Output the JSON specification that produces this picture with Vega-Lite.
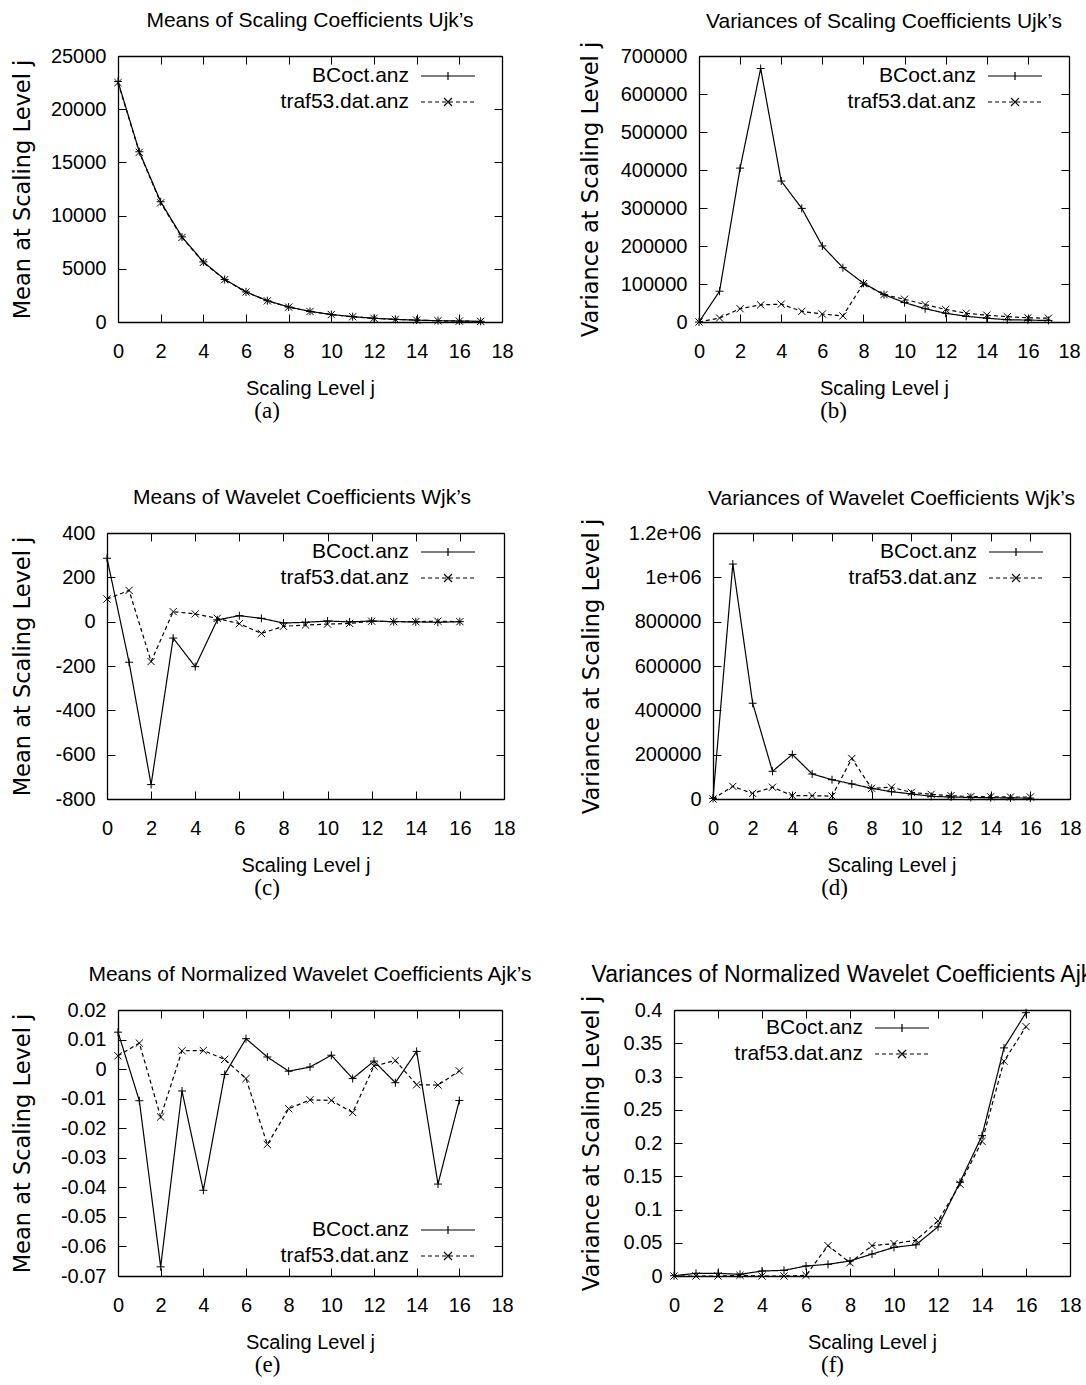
{
"$schema": "https://vega.github.io/schema/vega-lite/v6.json",
"background": "white",
"padding": {"left": 10, "top": 10, "right": 0, "bottom": 0},
"spacing": 64,
"datasets": {
"a": [
{"j":0,"s":"BCoct.anz","v":22600},{"j":1,"s":"BCoct.anz","v":16000},{"j":2,"s":"BCoct.anz","v":11300},{"j":3,"s":"BCoct.anz","v":8000},{"j":4,"s":"BCoct.anz","v":5650},{"j":5,"s":"BCoct.anz","v":4000},{"j":6,"s":"BCoct.anz","v":2830},{"j":7,"s":"BCoct.anz","v":2000},{"j":8,"s":"BCoct.anz","v":1410},{"j":9,"s":"BCoct.anz","v":1000},{"j":10,"s":"BCoct.anz","v":700},{"j":11,"s":"BCoct.anz","v":500},{"j":12,"s":"BCoct.anz","v":350},{"j":13,"s":"BCoct.anz","v":250},{"j":14,"s":"BCoct.anz","v":175},{"j":15,"s":"BCoct.anz","v":125},{"j":16,"s":"BCoct.anz","v":88},{"j":17,"s":"BCoct.anz","v":62},
{"j":0,"s":"traf53.dat.anz","v":22500},{"j":1,"s":"traf53.dat.anz","v":15950},{"j":2,"s":"traf53.dat.anz","v":11200},{"j":3,"s":"traf53.dat.anz","v":7950},{"j":4,"s":"traf53.dat.anz","v":5600},{"j":5,"s":"traf53.dat.anz","v":3980},{"j":6,"s":"traf53.dat.anz","v":2810},{"j":7,"s":"traf53.dat.anz","v":1990},{"j":8,"s":"traf53.dat.anz","v":1400},{"j":9,"s":"traf53.dat.anz","v":990},{"j":10,"s":"traf53.dat.anz","v":700},{"j":11,"s":"traf53.dat.anz","v":495},{"j":12,"s":"traf53.dat.anz","v":350},{"j":13,"s":"traf53.dat.anz","v":248},{"j":14,"s":"traf53.dat.anz","v":175},{"j":15,"s":"traf53.dat.anz","v":124},{"j":16,"s":"traf53.dat.anz","v":87},{"j":17,"s":"traf53.dat.anz","v":60}
],
"b": [
{"j":0,"s":"BCoct.anz","v":0},{"j":1,"s":"BCoct.anz","v":81000},{"j":2,"s":"BCoct.anz","v":405000},{"j":3,"s":"BCoct.anz","v":667000},{"j":4,"s":"BCoct.anz","v":371000},{"j":5,"s":"BCoct.anz","v":299000},{"j":6,"s":"BCoct.anz","v":200000},{"j":7,"s":"BCoct.anz","v":143000},{"j":8,"s":"BCoct.anz","v":102000},{"j":9,"s":"BCoct.anz","v":72000},{"j":10,"s":"BCoct.anz","v":51000},{"j":11,"s":"BCoct.anz","v":35000},{"j":12,"s":"BCoct.anz","v":23000},{"j":13,"s":"BCoct.anz","v":15000},{"j":14,"s":"BCoct.anz","v":10000},{"j":15,"s":"BCoct.anz","v":6000},{"j":16,"s":"BCoct.anz","v":5000},{"j":17,"s":"BCoct.anz","v":4000},
{"j":0,"s":"traf53.dat.anz","v":0},{"j":1,"s":"traf53.dat.anz","v":10500},{"j":2,"s":"traf53.dat.anz","v":35000},{"j":3,"s":"traf53.dat.anz","v":45000},{"j":4,"s":"traf53.dat.anz","v":47000},{"j":5,"s":"traf53.dat.anz","v":28000},{"j":6,"s":"traf53.dat.anz","v":21000},{"j":7,"s":"traf53.dat.anz","v":16000},{"j":8,"s":"traf53.dat.anz","v":101000},{"j":9,"s":"traf53.dat.anz","v":72000},{"j":10,"s":"traf53.dat.anz","v":60000},{"j":11,"s":"traf53.dat.anz","v":46000},{"j":12,"s":"traf53.dat.anz","v":33000},{"j":13,"s":"traf53.dat.anz","v":23000},{"j":14,"s":"traf53.dat.anz","v":18000},{"j":15,"s":"traf53.dat.anz","v":14000},{"j":16,"s":"traf53.dat.anz","v":11000},{"j":17,"s":"traf53.dat.anz","v":10000}
],
"c": [
{"j":0,"s":"BCoct.anz","v":286},{"j":1,"s":"BCoct.anz","v":-183},{"j":2,"s":"BCoct.anz","v":-735},{"j":3,"s":"BCoct.anz","v":-74},{"j":4,"s":"BCoct.anz","v":-203},{"j":5,"s":"BCoct.anz","v":8},{"j":6,"s":"BCoct.anz","v":27},{"j":7,"s":"BCoct.anz","v":15},{"j":8,"s":"BCoct.anz","v":-6},{"j":9,"s":"BCoct.anz","v":-3},{"j":10,"s":"BCoct.anz","v":3},{"j":11,"s":"BCoct.anz","v":-1},{"j":12,"s":"BCoct.anz","v":3},{"j":13,"s":"BCoct.anz","v":0},{"j":14,"s":"BCoct.anz","v":-1},{"j":15,"s":"BCoct.anz","v":-3},{"j":16,"s":"BCoct.anz","v":0},
{"j":0,"s":"traf53.dat.anz","v":102},{"j":1,"s":"traf53.dat.anz","v":141},{"j":2,"s":"traf53.dat.anz","v":-180},{"j":3,"s":"traf53.dat.anz","v":45},{"j":4,"s":"traf53.dat.anz","v":35},{"j":5,"s":"traf53.dat.anz","v":15},{"j":6,"s":"traf53.dat.anz","v":-9},{"j":7,"s":"traf53.dat.anz","v":-53},{"j":8,"s":"traf53.dat.anz","v":-21},{"j":9,"s":"traf53.dat.anz","v":-15},{"j":10,"s":"traf53.dat.anz","v":-11},{"j":11,"s":"traf53.dat.anz","v":-8},{"j":12,"s":"traf53.dat.anz","v":2},{"j":13,"s":"traf53.dat.anz","v":0},{"j":14,"s":"traf53.dat.anz","v":0},{"j":15,"s":"traf53.dat.anz","v":2},{"j":16,"s":"traf53.dat.anz","v":0}
],
"d": [
{"j":0,"s":"BCoct.anz","v":3000},{"j":1,"s":"BCoct.anz","v":1060000},{"j":2,"s":"BCoct.anz","v":432000},{"j":3,"s":"BCoct.anz","v":125000},{"j":4,"s":"BCoct.anz","v":201000},{"j":5,"s":"BCoct.anz","v":113000},{"j":6,"s":"BCoct.anz","v":87000},{"j":7,"s":"BCoct.anz","v":68000},{"j":8,"s":"BCoct.anz","v":48000},{"j":9,"s":"BCoct.anz","v":33000},{"j":10,"s":"BCoct.anz","v":23000},{"j":11,"s":"BCoct.anz","v":12000},{"j":12,"s":"BCoct.anz","v":9000},{"j":13,"s":"BCoct.anz","v":7000},{"j":14,"s":"BCoct.anz","v":6000},{"j":15,"s":"BCoct.anz","v":5000},{"j":16,"s":"BCoct.anz","v":4000},
{"j":0,"s":"traf53.dat.anz","v":0},{"j":1,"s":"traf53.dat.anz","v":57000},{"j":2,"s":"traf53.dat.anz","v":25000},{"j":3,"s":"traf53.dat.anz","v":53000},{"j":4,"s":"traf53.dat.anz","v":15000},{"j":5,"s":"traf53.dat.anz","v":15000},{"j":6,"s":"traf53.dat.anz","v":13000},{"j":7,"s":"traf53.dat.anz","v":183000},{"j":8,"s":"traf53.dat.anz","v":48000},{"j":9,"s":"traf53.dat.anz","v":53000},{"j":10,"s":"traf53.dat.anz","v":30000},{"j":11,"s":"traf53.dat.anz","v":21000},{"j":12,"s":"traf53.dat.anz","v":15000},{"j":13,"s":"traf53.dat.anz","v":11000},{"j":14,"s":"traf53.dat.anz","v":10000},{"j":15,"s":"traf53.dat.anz","v":9000},{"j":16,"s":"traf53.dat.anz","v":9000}
],
"e": [
{"j":0,"s":"BCoct.anz","v":0.0125},{"j":1,"s":"BCoct.anz","v":-0.0107},{"j":2,"s":"BCoct.anz","v":-0.0669},{"j":3,"s":"BCoct.anz","v":-0.0074},{"j":4,"s":"BCoct.anz","v":-0.041},{"j":5,"s":"BCoct.anz","v":-0.0018},{"j":6,"s":"BCoct.anz","v":0.0103},{"j":7,"s":"BCoct.anz","v":0.0041},{"j":8,"s":"BCoct.anz","v":-0.0007},{"j":9,"s":"BCoct.anz","v":0.0007},{"j":10,"s":"BCoct.anz","v":0.0047},{"j":11,"s":"BCoct.anz","v":-0.0032},{"j":12,"s":"BCoct.anz","v":0.0027},{"j":13,"s":"BCoct.anz","v":-0.0046},{"j":14,"s":"BCoct.anz","v":0.006},{"j":15,"s":"BCoct.anz","v":-0.0389},{"j":16,"s":"BCoct.anz","v":-0.0106},
{"j":0,"s":"traf53.dat.anz","v":0.0045},{"j":1,"s":"traf53.dat.anz","v":0.0088},{"j":2,"s":"traf53.dat.anz","v":-0.0162},{"j":3,"s":"traf53.dat.anz","v":0.0062},{"j":4,"s":"traf53.dat.anz","v":0.0063},{"j":5,"s":"traf53.dat.anz","v":0.0033},{"j":6,"s":"traf53.dat.anz","v":-0.0032},{"j":7,"s":"traf53.dat.anz","v":-0.0255},{"j":8,"s":"traf53.dat.anz","v":-0.0134},{"j":9,"s":"traf53.dat.anz","v":-0.0104},{"j":10,"s":"traf53.dat.anz","v":-0.0106},{"j":11,"s":"traf53.dat.anz","v":-0.0147},{"j":12,"s":"traf53.dat.anz","v":0.001},{"j":13,"s":"traf53.dat.anz","v":0.0029},{"j":14,"s":"traf53.dat.anz","v":-0.0053},{"j":15,"s":"traf53.dat.anz","v":-0.0054},{"j":16,"s":"traf53.dat.anz","v":-0.0006}
],
"f": [
{"j":0,"s":"BCoct.anz","v":0.0005},{"j":1,"s":"BCoct.anz","v":0.004},{"j":2,"s":"BCoct.anz","v":0.004},{"j":3,"s":"BCoct.anz","v":0.0025},{"j":4,"s":"BCoct.anz","v":0.0075},{"j":5,"s":"BCoct.anz","v":0.0085},{"j":6,"s":"BCoct.anz","v":0.015},{"j":7,"s":"BCoct.anz","v":0.0176},{"j":8,"s":"BCoct.anz","v":0.0226},{"j":9,"s":"BCoct.anz","v":0.033},{"j":10,"s":"BCoct.anz","v":0.043},{"j":11,"s":"BCoct.anz","v":0.047},{"j":12,"s":"BCoct.anz","v":0.074},{"j":13,"s":"BCoct.anz","v":0.141},{"j":14,"s":"BCoct.anz","v":0.211},{"j":15,"s":"BCoct.anz","v":0.343},{"j":16,"s":"BCoct.anz","v":0.396},
{"j":0,"s":"traf53.dat.anz","v":0},{"j":1,"s":"traf53.dat.anz","v":0},{"j":2,"s":"traf53.dat.anz","v":0},{"j":3,"s":"traf53.dat.anz","v":0.001},{"j":4,"s":"traf53.dat.anz","v":0},{"j":5,"s":"traf53.dat.anz","v":0},{"j":6,"s":"traf53.dat.anz","v":0.001},{"j":7,"s":"traf53.dat.anz","v":0.0457},{"j":8,"s":"traf53.dat.anz","v":0.02},{"j":9,"s":"traf53.dat.anz","v":0.0457},{"j":10,"s":"traf53.dat.anz","v":0.0487},{"j":11,"s":"traf53.dat.anz","v":0.0538},{"j":12,"s":"traf53.dat.anz","v":0.0829},{"j":13,"s":"traf53.dat.anz","v":0.138},{"j":14,"s":"traf53.dat.anz","v":0.2025},{"j":15,"s":"traf53.dat.anz","v":0.323},{"j":16,"s":"traf53.dat.anz","v":0.375}
]
},
"vconcat": [
{"hconcat": [
 {"title": {"text": "(a)", "orient": "bottom", "anchor": "middle", "font": "Liberation Serif", "fontSize": 23, "baseline": "alphabetic", "offset": 20, "dx": 5},
  "vconcat": [{
  "width": 384, "height": 266,
  "title": {"text": "Means of Scaling Coefficients Ujk’s", "offset": -2, "baseline": "alphabetic"},
  "data": {"name": "a"},
  "layer": [
   {"mark": {"type": "line", "color": "black", "strokeWidth": 1.2},
    "encoding": {
     "x": {"field": "j", "type": "quantitative", "scale": {"domain": [0,18], "nice": false}, "axis": {"orient": "bottom", "values": [0,2,4,6,8,10,12,14,16,18], "title": "Scaling Level j", "titleY": 72, "titleBaseline": "alphabetic"}},
     "y": {"field": "v", "type": "quantitative", "scale": {"domain": [0,25000], "nice": false, "zero": false}, "axis": {"orient": "left", "values": [0,5000,10000,15000,20000,25000], "title": "Mean at Scaling Level j", "titleX": -96, "titleBaseline": "middle", "labelExpr": "'' + datum.value"}},
     "strokeDash": {"field": "s", "type": "nominal", "scale": {"domain": ["BCoct.anz","traf53.dat.anz"], "range": [[1,0],[4,3]]}, "legend": null}
    }},
   {"mark": {"type": "point", "filled": false, "color": "black", "strokeWidth": 1, "size": 64, "opacity": 1},
    "encoding": {
     "x": {"field": "j", "type": "quantitative", "axis": {"orient": "top", "values": [0,2,4,6,8,10,12,14,16,18], "labels": false, "title": null}},
     "y": {"field": "v", "type": "quantitative", "axis": {"orient": "right", "values": [0,5000,10000,15000,20000,25000], "labels": false, "title": null}},
     "shape": {"field": "s", "type": "nominal", "scale": {"domain": ["BCoct.anz","traf53.dat.anz"], "range": ["M-1,0H1M0,-1V1","M-0.9,-0.9L0.9,0.9M-0.9,0.9L0.9,-0.9"]}, "legend": null}
    }},
   {"transform": [{"filter": "false"}],
    "mark": {"type": "point", "filled": false, "color": "black", "strokeWidth": 1.2, "size": 100, "opacity": 1},
    "encoding": {"shape": {"field": "s", "type": "nominal", "scale": {"domain": ["BCoct.anz","traf53.dat.anz"], "range": ["M-5.4,0H5.4M0,-0.8V0.8","M-5.4,0H-4.6M-4,0H-3.2M-2.6,0H-1.8M-1.2,0H-0.4M0.2,0H1M1.6,0H2.4M3,0H3.8M4.4,0H5.2M-0.8,-0.8L0.8,0.8M-0.8,0.8L0.8,-0.8"]}, "legend": {"orient": "none", "legendX": 319.5, "legendY": 9.5, "title": null}}}}
  ],
  "resolve": {"scale": {"shape": "independent"}, "axis": {"x": "independent", "y": "independent"}}
 }]},
 {"title": {"text": "(b)", "orient": "bottom", "anchor": "middle", "font": "Liberation Serif", "fontSize": 23, "baseline": "alphabetic", "offset": 20, "dx": 4},
  "vconcat": [{
  "width": 370, "height": 266,
  "title": {"text": "Variances of Scaling Coefficients Ujk’s", "offset": -8, "baseline": "alphabetic"},
  "data": {"name": "b"},
  "layer": [
   {"mark": {"type": "line", "color": "black", "strokeWidth": 1.2},
    "encoding": {
     "x": {"field": "j", "type": "quantitative", "scale": {"domain": [0,18], "nice": false}, "axis": {"orient": "bottom", "values": [0,2,4,6,8,10,12,14,16,18], "title": "Scaling Level j", "titleY": 72, "titleBaseline": "alphabetic"}},
     "y": {"field": "v", "type": "quantitative", "scale": {"domain": [0,700000], "nice": false, "zero": false}, "axis": {"orient": "left", "values": [0,100000,200000,300000,400000,500000,600000,700000], "title": "Variance at Scaling Level j", "titleX": -109, "titleBaseline": "middle", "labelExpr": "'' + datum.value"}},
     "strokeDash": {"field": "s", "type": "nominal", "scale": {"domain": ["BCoct.anz","traf53.dat.anz"], "range": [[1,0],[4,3]]}, "legend": null}
    }},
   {"mark": {"type": "point", "filled": false, "color": "black", "strokeWidth": 1, "size": 64, "opacity": 1},
    "encoding": {
     "x": {"field": "j", "type": "quantitative", "axis": {"orient": "top", "values": [0,2,4,6,8,10,12,14,16,18], "labels": false, "title": null}},
     "y": {"field": "v", "type": "quantitative", "axis": {"orient": "right", "values": [0,100000,200000,300000,400000,500000,600000,700000], "labels": false, "title": null}},
     "shape": {"field": "s", "type": "nominal", "scale": {"domain": ["BCoct.anz","traf53.dat.anz"], "range": ["M-1,0H1M0,-1V1","M-0.9,-0.9L0.9,0.9M-0.9,0.9L0.9,-0.9"]}, "legend": null}
    }},
   {"transform": [{"filter": "false"}],
    "mark": {"type": "point", "filled": false, "color": "black", "strokeWidth": 1.2, "size": 100, "opacity": 1},
    "encoding": {"shape": {"field": "s", "type": "nominal", "scale": {"domain": ["BCoct.anz","traf53.dat.anz"], "range": ["M-5.4,0H5.4M0,-0.8V0.8","M-5.4,0H-4.6M-4,0H-3.2M-2.6,0H-1.8M-1.2,0H-0.4M0.2,0H1M1.6,0H2.4M3,0H3.8M4.4,0H5.2M-0.8,-0.8L0.8,0.8M-0.8,0.8L0.8,-0.8"]}, "legend": {"orient": "none", "legendX": 305.5, "legendY": 9.5, "title": null}}}}
  ],
  "resolve": {"scale": {"shape": "independent"}, "axis": {"x": "independent", "y": "independent"}}
 }]}
], "spacing": 64},
{"hconcat": [
 {"title": {"text": "(c)", "orient": "bottom", "anchor": "middle", "font": "Liberation Serif", "fontSize": 23, "baseline": "alphabetic", "offset": 20, "dx": 4},
  "vconcat": [{
  "width": 386, "height": 266,
  "title": {"text": "Means of Wavelet Coefficients Wjk’s", "offset": -2, "baseline": "alphabetic", "dx": -9},
  "data": {"name": "c"},
  "layer": [
   {"mark": {"type": "line", "color": "black", "strokeWidth": 1.2},
    "encoding": {
     "x": {"field": "j", "type": "quantitative", "scale": {"domain": [0,18], "nice": false, "range": [-11, 386]}, "axis": {"orient": "bottom", "values": [0,2,4,6,8,10,12,14,16,18], "title": "Scaling Level j", "titleY": 72, "titleBaseline": "alphabetic"}},
     "y": {"field": "v", "type": "quantitative", "scale": {"domain": [-800,400], "nice": false, "zero": false}, "axis": {"orient": "left", "offset": 11, "values": [-800,-600,-400,-200,0,200,400], "title": "Mean at Scaling Level j", "titleX": -85, "titleBaseline": "middle", "labelExpr": "'' + datum.value"}},
     "strokeDash": {"field": "s", "type": "nominal", "scale": {"domain": ["BCoct.anz","traf53.dat.anz"], "range": [[1,0],[4,3]]}, "legend": null}
    }},
   {"mark": {"type": "point", "filled": false, "color": "black", "strokeWidth": 1, "size": 64, "opacity": 1},
    "encoding": {
     "x": {"field": "j", "type": "quantitative", "axis": {"orient": "top", "values": [0,2,4,6,8,10,12,14,16,18], "labels": false, "title": null}},
     "y": {"field": "v", "type": "quantitative", "axis": {"orient": "right", "values": [-800,-600,-400,-200,0,200,400], "labels": false, "title": null}},
     "shape": {"field": "s", "type": "nominal", "scale": {"domain": ["BCoct.anz","traf53.dat.anz"], "range": ["M-1,0H1M0,-1V1","M-0.9,-0.9L0.9,0.9M-0.9,0.9L0.9,-0.9"]}, "legend": null}
    }},
   {"transform": [{"filter": "false"}],
    "mark": {"type": "point", "filled": false, "color": "black", "strokeWidth": 1.2, "size": 100, "opacity": 1},
    "encoding": {"shape": {"field": "s", "type": "nominal", "scale": {"domain": ["BCoct.anz","traf53.dat.anz"], "range": ["M-5.4,0H5.4M0,-0.8V0.8","M-5.4,0H-4.6M-4,0H-3.2M-2.6,0H-1.8M-1.2,0H-0.4M0.2,0H1M1.6,0H2.4M3,0H3.8M4.4,0H5.2M-0.8,-0.8L0.8,0.8M-0.8,0.8L0.8,-0.8"]}, "legend": {"orient": "none", "legendX": 319.5, "legendY": 8.5, "title": null}}}}
  ],
  "resolve": {"scale": {"shape": "independent"}, "axis": {"x": "independent", "y": "independent"}}
 }]},
 {"title": {"text": "(d)", "orient": "bottom", "anchor": "middle", "font": "Liberation Serif", "fontSize": 23, "baseline": "alphabetic", "offset": 20, "dx": 4},
  "vconcat": [{
  "width": 357, "height": 266,
  "title": {"text": "Variances of Wavelet Coefficients Wjk’s", "offset": -8, "baseline": "alphabetic"},
  "data": {"name": "d"},
  "layer": [
   {"mark": {"type": "line", "color": "black", "strokeWidth": 1.2},
    "encoding": {
     "x": {"field": "j", "type": "quantitative", "scale": {"domain": [0,18], "nice": false}, "axis": {"orient": "bottom", "values": [0,2,4,6,8,10,12,14,16,18], "title": "Scaling Level j", "titleY": 72, "titleBaseline": "alphabetic"}},
     "y": {"field": "v", "type": "quantitative", "scale": {"domain": [0,1200000], "nice": false, "zero": false}, "axis": {"orient": "left", "values": [0,200000,400000,600000,800000,1000000,1200000], "title": "Variance at Scaling Level j", "titleX": -122, "titleBaseline": "middle", "labelExpr": "datum.value == 1200000 ? '1.2e+06' : datum.value == 1000000 ? '1e+06' : '' + datum.value"}},
     "strokeDash": {"field": "s", "type": "nominal", "scale": {"domain": ["BCoct.anz","traf53.dat.anz"], "range": [[1,0],[4,3]]}, "legend": null}
    }},
   {"mark": {"type": "point", "filled": false, "color": "black", "strokeWidth": 1, "size": 64, "opacity": 1},
    "encoding": {
     "x": {"field": "j", "type": "quantitative", "axis": {"orient": "top", "values": [0,2,4,6,8,10,12,14,16,18], "labels": false, "title": null}},
     "y": {"field": "v", "type": "quantitative", "axis": {"orient": "right", "values": [0,200000,400000,600000,800000,1000000,1200000], "labels": false, "title": null}},
     "shape": {"field": "s", "type": "nominal", "scale": {"domain": ["BCoct.anz","traf53.dat.anz"], "range": ["M-1,0H1M0,-1V1","M-0.9,-0.9L0.9,0.9M-0.9,0.9L0.9,-0.9"]}, "legend": null}
    }},
   {"transform": [{"filter": "false"}],
    "mark": {"type": "point", "filled": false, "color": "black", "strokeWidth": 1.2, "size": 100, "opacity": 1},
    "encoding": {"shape": {"field": "s", "type": "nominal", "scale": {"domain": ["BCoct.anz","traf53.dat.anz"], "range": ["M-5.4,0H5.4M0,-0.8V0.8","M-5.4,0H-4.6M-4,0H-3.2M-2.6,0H-1.8M-1.2,0H-0.4M0.2,0H1M1.6,0H2.4M3,0H3.8M4.4,0H5.2M-0.8,-0.8L0.8,0.8M-0.8,0.8L0.8,-0.8"]}, "legend": {"orient": "none", "legendX": 292.5, "legendY": 8.5, "title": null}}}}
  ],
  "resolve": {"scale": {"shape": "independent"}, "axis": {"x": "independent", "y": "independent"}}
 }]}
], "spacing": 64},
{"hconcat": [
 {"title": {"text": "(e)", "orient": "bottom", "anchor": "middle", "font": "Liberation Serif", "fontSize": 23, "baseline": "alphabetic", "offset": 20, "dx": -4},
  "vconcat": [{
  "width": 384, "height": 266,
  "title": {"text": "Means of Normalized Wavelet Coefficients Ajk’s", "offset": -2, "baseline": "alphabetic"},
  "data": {"name": "e"},
  "layer": [
   {"mark": {"type": "line", "color": "black", "strokeWidth": 1.2},
    "encoding": {
     "x": {"field": "j", "type": "quantitative", "scale": {"domain": [0,18], "nice": false}, "axis": {"orient": "bottom", "values": [0,2,4,6,8,10,12,14,16,18], "title": "Scaling Level j", "titleY": 72, "titleBaseline": "alphabetic"}},
     "y": {"field": "v", "type": "quantitative", "scale": {"domain": [-0.07,0.02], "nice": false, "zero": false}, "axis": {"orient": "left", "values": [-0.07,-0.06,-0.05,-0.04,-0.03,-0.02,-0.01,0,0.01,0.02], "title": "Mean at Scaling Level j", "titleX": -96, "titleBaseline": "middle", "labelExpr": "'' + datum.value"}},
     "strokeDash": {"field": "s", "type": "nominal", "scale": {"domain": ["BCoct.anz","traf53.dat.anz"], "range": [[1,0],[4,3]]}, "legend": null}
    }},
   {"mark": {"type": "point", "filled": false, "color": "black", "strokeWidth": 1, "size": 64, "opacity": 1},
    "encoding": {
     "x": {"field": "j", "type": "quantitative", "axis": {"orient": "top", "values": [0,2,4,6,8,10,12,14,16,18], "labels": false, "title": null}},
     "y": {"field": "v", "type": "quantitative", "axis": {"orient": "right", "values": [-0.07,-0.06,-0.05,-0.04,-0.03,-0.02,-0.01,0,0.01,0.02], "labels": false, "title": null}},
     "shape": {"field": "s", "type": "nominal", "scale": {"domain": ["BCoct.anz","traf53.dat.anz"], "range": ["M-1,0H1M0,-1V1","M-0.9,-0.9L0.9,0.9M-0.9,0.9L0.9,-0.9"]}, "legend": null}
    }},
   {"transform": [{"filter": "false"}],
    "mark": {"type": "point", "filled": false, "color": "black", "strokeWidth": 1.2, "size": 100, "opacity": 1},
    "encoding": {"shape": {"field": "s", "type": "nominal", "scale": {"domain": ["BCoct.anz","traf53.dat.anz"], "range": ["M-5.4,0H5.4M0,-0.8V0.8","M-5.4,0H-4.6M-4,0H-3.2M-2.6,0H-1.8M-1.2,0H-0.4M0.2,0H1M1.6,0H2.4M3,0H3.8M4.4,0H5.2M-0.8,-0.8L0.8,0.8M-0.8,0.8L0.8,-0.8"]}, "legend": {"orient": "none", "legendX": 319.5, "legendY": 209.5, "title": null}}}}
  ],
  "resolve": {"scale": {"shape": "independent"}, "axis": {"x": "independent", "y": "independent"}}
 }]},
 {"title": {"text": "(f)", "orient": "bottom", "anchor": "middle", "font": "Liberation Serif", "fontSize": 23, "baseline": "alphabetic", "offset": 20, "dx": -12},
  "vconcat": [{
  "width": 396, "height": 266,
  "title": {"text": "Variances of Normalized Wavelet Coefficients Ajk’s", "offset": -10, "baseline": "alphabetic", "fontSize": 23, "dx": -22},
  "data": {"name": "f"},
  "layer": [
   {"mark": {"type": "line", "color": "black", "strokeWidth": 1.2},
    "encoding": {
     "x": {"field": "j", "type": "quantitative", "scale": {"domain": [0,18], "nice": false}, "axis": {"orient": "bottom", "values": [0,2,4,6,8,10,12,14,16,18], "title": "Scaling Level j", "titleY": 72, "titleBaseline": "alphabetic"}},
     "y": {"field": "v", "type": "quantitative", "scale": {"domain": [0,0.4], "nice": false, "zero": false}, "axis": {"orient": "left", "values": [0,0.05,0.1,0.15,0.2,0.25,0.3,0.35,0.4], "title": "Variance at Scaling Level j", "titleX": -83, "titleBaseline": "middle", "labelExpr": "'' + datum.value"}},
     "strokeDash": {"field": "s", "type": "nominal", "scale": {"domain": ["BCoct.anz","traf53.dat.anz"], "range": [[1,0],[4,3]]}, "legend": null}
    }},
   {"mark": {"type": "point", "filled": false, "color": "black", "strokeWidth": 1, "size": 64, "opacity": 1},
    "encoding": {
     "x": {"field": "j", "type": "quantitative", "axis": {"orient": "top", "values": [0,2,4,6,8,10,12,14,16,18], "labels": false, "title": null}},
     "y": {"field": "v", "type": "quantitative", "axis": {"orient": "right", "values": [0,0.05,0.1,0.15,0.2,0.25,0.3,0.35,0.4], "labels": false, "title": null}},
     "shape": {"field": "s", "type": "nominal", "scale": {"domain": ["BCoct.anz","traf53.dat.anz"], "range": ["M-1,0H1M0,-1V1","M-0.9,-0.9L0.9,0.9M-0.9,0.9L0.9,-0.9"]}, "legend": null}
    }},
   {"transform": [{"filter": "false"}],
    "mark": {"type": "point", "filled": false, "color": "black", "strokeWidth": 1.2, "size": 100, "opacity": 1},
    "encoding": {"shape": {"field": "s", "type": "nominal", "scale": {"domain": ["BCoct.anz","traf53.dat.anz"], "range": ["M-5.4,0H5.4M0,-0.8V0.8","M-5.4,0H-4.6M-4,0H-3.2M-2.6,0H-1.8M-1.2,0H-0.4M0.2,0H1M1.6,0H2.4M3,0H3.8M4.4,0H5.2M-0.8,-0.8L0.8,0.8M-0.8,0.8L0.8,-0.8"]}, "legend": {"orient": "none", "legendX": 217.5, "legendY": 7.5, "title": null}}}}
  ],
  "resolve": {"scale": {"shape": "independent"}, "axis": {"x": "independent", "y": "independent"}}
 }]}
], "spacing": 46}
],
"config": {
 "view": {"stroke": null},
 "font": "Liberation Sans",
 "axis": {"grid": false, "domainColor": "black", "domainWidth": 1.3, "tickColor": "black", "tickSize": -8, "tickWidth": 1, "labelFont": "Liberation Sans", "labelFontSize": 20, "labelColor": "black", "labelFlush": false, "labelOverlap": false, "titleColor": "black", "titleFontWeight": "normal"},
 "axisX": {"titleFont": "Liberation Sans", "titleFontSize": 20, "labelPadding": 27},
 "axisY": {"titleFont": "DejaVu Sans", "titleFontSize": 22.5, "labelPadding": 20},
 "title": {"font": "Liberation Sans", "fontSize": 21, "fontWeight": "normal", "color": "black"},
 "legend": {"labelFont": "Liberation Sans", "labelFontSize": 21, "labelColor": "black", "labelAlign": "right", "labelOffset": -49.5, "symbolSize": 100, "symbolStrokeWidth": 1.2, "symbolStrokeColor": "black", "symbolFillColor": "transparent", "rowPadding": 4, "padding": 0, "symbolOffset": 0}
}
}
